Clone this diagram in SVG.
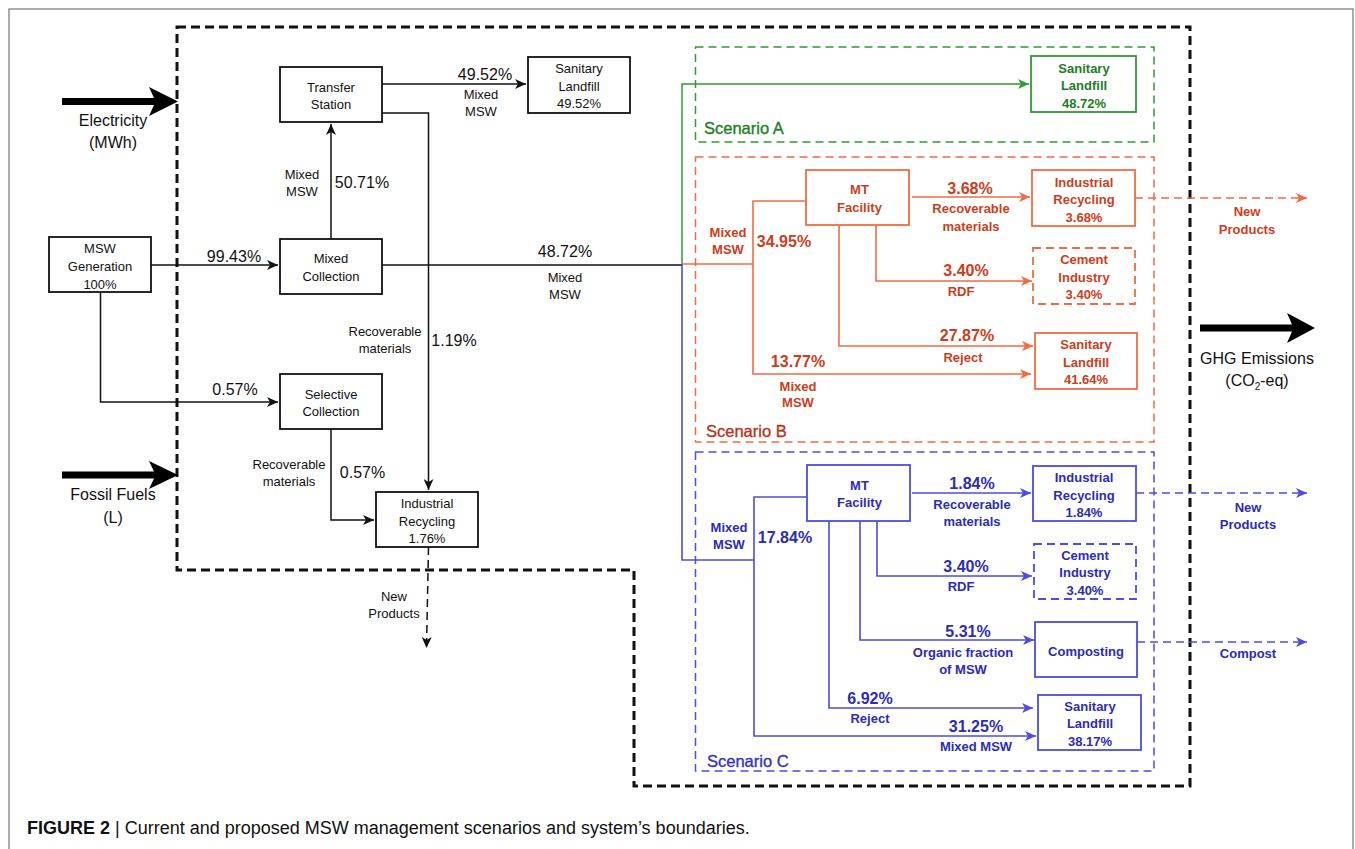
<svg xmlns="http://www.w3.org/2000/svg" width="1355" height="849" viewBox="0 0 1355 849">
<style>
text{font-family:"Liberation Sans",Arial,sans-serif;text-anchor:middle}
.bx{fill:#fff;stroke:#111;stroke-width:1.8}
.s13{font-size:13px}
.s16{font-size:16px}
.gB{fill:#fff;stroke:#2e9b35;stroke-width:1.8}
.oB{fill:#fff;stroke:#f26b43;stroke-width:1.8}
.bB{fill:#fff;stroke:#4c4ce6;stroke-width:1.8}
.gt{fill:#1d7d25;font-weight:bold}
.ot{fill:#cc3d20;font-weight:bold}
.bt{fill:#2c2cb4;font-weight:bold}
.ln{fill:none;stroke:#111;stroke-width:1.5}
.lg{fill:none;stroke:#2e9b35;stroke-width:1.5}
.lo{fill:none;stroke:#f26b43;stroke-width:1.6}
.lb{fill:none;stroke:#4c4ce6;stroke-width:1.6}
.dash{stroke-dasharray:8 5}
.sc{fill:none;stroke-width:1.5;stroke-dasharray:8 5}
.lbl{font-size:16.5px;text-anchor:start;font-weight:normal;stroke-width:0.35}
</style>
<defs>
<marker id="ak" markerUnits="userSpaceOnUse" markerWidth="12" markerHeight="10" refX="11" refY="5" orient="auto"><path d="M0,0 L11,5 L0,10 L3,5 Z" fill="#111"/></marker>
<marker id="ag" markerUnits="userSpaceOnUse" markerWidth="12" markerHeight="10" refX="11" refY="5" orient="auto"><path d="M0,0 L11,5 L0,10 L3,5 Z" fill="#2e9b35"/></marker>
<marker id="ao" markerUnits="userSpaceOnUse" markerWidth="12" markerHeight="10" refX="11" refY="5" orient="auto"><path d="M0,0 L11,5 L0,10 L3,5 Z" fill="#f26b43"/></marker>
<marker id="ab" markerUnits="userSpaceOnUse" markerWidth="12" markerHeight="10" refX="11" refY="5" orient="auto"><path d="M0,0 L11,5 L0,10 L3,5 Z" fill="#4c4ce6"/></marker>
</defs>
<rect x="0" y="0" width="1355" height="849" fill="#fff"/>
<rect x="9" y="9" width="1344" height="860" fill="none" stroke="#8a8a8a" stroke-width="1.4"/>

<!-- system boundary -->
<path d="M177,27 H1190 V786 H634 V570 H177 Z" fill="none" stroke="#111" stroke-width="3" stroke-dasharray="9 5"/>

<!-- scenario frames -->
<rect x="695.5" y="47" width="458.5" height="95" class="sc" stroke="#2e9b35"/>
<rect x="695.5" y="157" width="458.5" height="285" class="sc" stroke="#f26b43"/>
<rect x="695.5" y="452" width="458.5" height="319" class="sc" stroke="#4c4ce6"/>
<text x="704" y="134" class="lbl" fill="#1d7d25" stroke="#1d7d25">Scenario A</text>
<text x="706" y="437" class="lbl" fill="#b8341c" stroke="#b8341c">Scenario B</text>
<text x="707" y="767" class="lbl" fill="#3434c0" stroke="#3434c0">Scenario C</text>

<!-- big arrows -->
<g id="electricity">
<path d="M62,98 H154 L149,87 L178,101.5 L149,116 L154,105 H62 Z" fill="#000"/>
<text x="113" y="126" class="s16" fill="#111">Electricity</text>
<text x="113" y="148" class="s16" fill="#111">(MWh)</text>
</g>
<g id="fossil">
<path d="M62,471.5 H154 L149,461 L178,475 L149,489 L154,478.5 H62 Z" fill="#000"/>
<text x="113" y="500" class="s16" fill="#111">Fossil Fuels</text>
<text x="113" y="523" class="s16" fill="#111">(L)</text>
</g>
<g id="ghg">
<path d="M1200,324.5 H1292 L1287,313 L1315,328 L1287,343 L1292,331.5 H1200 Z" fill="#000"/>
<text x="1257" y="364" class="s16" fill="#111">GHG Emissions</text>
<text x="1257" y="386" class="s16" fill="#111">(CO<tspan font-size="10" dy="4">2</tspan><tspan dy="-4">-eq)</tspan></text>
</g>

<!-- connectors -->
<g id="connectors">
<path class="ln" d="M151,265 H278" marker-end="url(#ak)"/>
<path class="ln" d="M331,239 V124" marker-end="url(#ak)"/>
<path class="ln" d="M382,84 H526" marker-end="url(#ak)"/>
<path class="ln" d="M382,113 H428.5 V490" marker-end="url(#ak)"/>
<path class="ln" d="M382,265 H682"/>
<path class="ln" d="M100.5,292 V402 H278" marker-end="url(#ak)"/>
<path class="ln" d="M331,429 V520 H374" marker-end="url(#ak)"/>
<path class="ln dash" d="M428.5,547 L426.5,648" marker-end="url(#ak)"/>

<path class="lg" d="M682,264 V84 H1029" marker-end="url(#ag)"/>

<path class="lo" d="M682,264 H753"/>
<path class="lo" d="M806,201 H753 V374 H1031" marker-end="url(#ao)"/>
<path class="lo" d="M912,197 H1030" marker-end="url(#ao)"/>
<path class="lo" d="M876,225 V281 H1032" marker-end="url(#ao)"/>
<path class="lo" d="M839,225 V346 H1033" marker-end="url(#ao)"/>
<path class="lo dash" d="M1135,198 H1307" marker-end="url(#ao)"/>

<path class="lb" d="M682,264 V560 H754"/>
<path class="lb" d="M807,497 H754 V736 H1036" marker-end="url(#ab)"/>
<path class="lb" d="M912,493 H1031" marker-end="url(#ab)"/>
<path class="lb" d="M877,521 V576 H1032" marker-end="url(#ab)"/>
<path class="lb" d="M860,521 V640 H1034" marker-end="url(#ab)"/>
<path class="lb" d="M829,521 V708 H1033" marker-end="url(#ab)"/>
<path class="lb dash" d="M1136,493 H1307" marker-end="url(#ab)"/>
<path class="lb dash" d="M1137,642 H1307" marker-end="url(#ab)"/>
</g>

<!-- connector labels (black) -->
<g id="labels-black" fill="#111">
<text x="485" y="80" class="s16">49.52%</text>
<text x="481" y="99" class="s13">Mixed</text>
<text x="481" y="116" class="s13">MSW</text>
<text x="302" y="179" class="s13">Mixed</text>
<text x="302" y="196" class="s13">MSW</text>
<text x="362" y="188" class="s16">50.71%</text>
<text x="234" y="262" class="s16">99.43%</text>
<text x="565" y="257" class="s16">48.72%</text>
<text x="565" y="282" class="s13">Mixed</text>
<text x="565" y="299" class="s13">MSW</text>
<text x="385" y="336" class="s13">Recoverable</text>
<text x="385" y="353" class="s13">materials</text>
<text x="454" y="346" class="s16">1.19%</text>
<text x="235" y="395" class="s16">0.57%</text>
<text x="289" y="469" class="s13">Recoverable</text>
<text x="289" y="486" class="s13">materials</text>
<text x="362.5" y="478" class="s16">0.57%</text>
<text x="394" y="601" class="s13">New</text>
<text x="394" y="618" class="s13">Products</text>
</g>

<!-- black nodes -->
<g id="msw-generation"><rect class="bx" x="49" y="237" width="102" height="55"/>
<text x="100" y="253" class="s13" fill="#111">MSW</text><text x="100" y="271" class="s13" fill="#111">Generation</text><text x="100" y="289" class="s13" fill="#111">100%</text></g>
<g id="transfer-station"><rect class="bx" x="280" y="67" width="102" height="55"/>
<text x="331" y="92" class="s13" fill="#111">Transfer</text><text x="331" y="109" class="s13" fill="#111">Station</text></g>
<g id="sanitary-landfill"><rect class="bx" x="528" y="57" width="102" height="56"/>
<text x="579" y="73" class="s13" fill="#111">Sanitary</text><text x="579" y="91" class="s13" fill="#111">Landfill</text><text x="579" y="108" class="s13" fill="#111">49.52%</text></g>
<g id="mixed-collection"><rect class="bx" x="280" y="239" width="102" height="55"/>
<text x="331" y="263" class="s13" fill="#111">Mixed</text><text x="331" y="281" class="s13" fill="#111">Collection</text></g>
<g id="selective-collection"><rect class="bx" x="280" y="374" width="102" height="55"/>
<text x="331" y="399" class="s13" fill="#111">Selective</text><text x="331" y="416" class="s13" fill="#111">Collection</text></g>
<g id="industrial-recycling"><rect class="bx" x="376" y="492" width="102" height="55"/>
<text x="427" y="508" class="s13" fill="#111">Industrial</text><text x="427" y="526" class="s13" fill="#111">Recycling</text><text x="427" y="543" class="s13" fill="#111">1.76%</text></g>

<!-- Scenario A -->
<g id="a-landfill"><rect class="gB" x="1031" y="56" width="105" height="56"/>
<text x="1084" y="73" class="s13 gt">Sanitary</text><text x="1084" y="90" class="s13 gt">Landfill</text><text x="1084" y="108" class="s13 gt">48.72%</text></g>

<!-- Scenario B -->
<g id="b-labels">
<text x="728" y="237" class="s13 ot">Mixed</text><text x="728" y="254" class="s13 ot">MSW</text>
<text x="784" y="247" class="s16 ot">34.95%</text>
<text x="970" y="194" class="s16 ot">3.68%</text>
<text x="971" y="213" class="s13 ot">Recoverable</text><text x="971" y="231" class="s13 ot">materials</text>
<text x="966" y="276" class="s16 ot">3.40%</text>
<text x="961" y="296" class="s13 ot">RDF</text>
<text x="967" y="341" class="s16 ot">27.87%</text>
<text x="963" y="362" class="s13 ot">Reject</text>
<text x="798" y="367" class="s16 ot">13.77%</text>
<text x="798" y="391" class="s13 ot">Mixed</text><text x="798" y="407" class="s13 ot">MSW</text>
<text x="1247" y="216" class="s13 ot">New</text><text x="1247" y="234" class="s13 ot">Products</text>
</g>
<g id="b-mt"><rect class="oB" x="806" y="170" width="103" height="55"/>
<text x="859.5" y="194" class="s13 ot">MT</text><text x="859.5" y="212" class="s13 ot">Facility</text></g>
<g id="b-recycling"><rect class="oB" x="1032" y="170" width="103" height="56"/>
<text x="1084" y="187" class="s13 ot">Industrial</text><text x="1084" y="204" class="s13 ot">Recycling</text><text x="1084" y="222" class="s13 ot">3.68%</text></g>
<g id="b-cement"><rect class="oB dash" x="1033" y="248" width="102" height="56"/>
<text x="1084" y="264" class="s13 ot">Cement</text><text x="1084" y="282" class="s13 ot">Industry</text><text x="1084" y="299" class="s13 ot">3.40%</text></g>
<g id="b-landfill"><rect class="oB" x="1035" y="333" width="102" height="56"/>
<text x="1086" y="349" class="s13 ot">Sanitary</text><text x="1086" y="367" class="s13 ot">Landfill</text><text x="1086" y="384" class="s13 ot">41.64%</text></g>

<!-- Scenario C -->
<g id="c-labels">
<text x="729" y="532" class="s13 bt">Mixed</text><text x="729" y="549" class="s13 bt">MSW</text>
<text x="785" y="543" class="s16 bt">17.84%</text>
<text x="972" y="489" class="s16 bt">1.84%</text>
<text x="972" y="509" class="s13 bt">Recoverable</text><text x="972" y="526" class="s13 bt">materials</text>
<text x="966" y="572" class="s16 bt">3.40%</text>
<text x="961" y="591" class="s13 bt">RDF</text>
<text x="968" y="637" class="s16 bt">5.31%</text>
<text x="963" y="657" class="s13 bt">Organic fraction</text><text x="963" y="674" class="s13 bt">of MSW</text>
<text x="870" y="704" class="s16 bt">6.92%</text>
<text x="870" y="723" class="s13 bt">Reject</text>
<text x="976" y="732" class="s16 bt">31.25%</text>
<text x="976" y="751" class="s13 bt">Mixed MSW</text>
<text x="1248" y="512" class="s13 bt">New</text><text x="1248" y="529" class="s13 bt">Products</text>
<text x="1248" y="658" class="s13 bt">Compost</text>
</g>
<g id="c-mt"><rect class="bB" x="807" y="465" width="103" height="56"/>
<text x="859.5" y="490" class="s13 bt">MT</text><text x="859.5" y="507" class="s13 bt">Facility</text></g>
<g id="c-recycling"><rect class="bB" x="1033" y="466" width="103" height="55"/>
<text x="1084" y="482" class="s13 bt">Industrial</text><text x="1084" y="500" class="s13 bt">Recycling</text><text x="1084" y="517" class="s13 bt">1.84%</text></g>
<g id="c-cement"><rect class="bB dash" x="1034" y="544" width="102" height="55"/>
<text x="1085" y="560" class="s13 bt">Cement</text><text x="1085" y="577" class="s13 bt">Industry</text><text x="1085" y="595" class="s13 bt">3.40%</text></g>
<g id="c-composting"><rect class="bB" x="1035" y="622" width="102" height="55"/>
<text x="1086" y="656" class="s13 bt">Composting</text></g>
<g id="c-landfill"><rect class="bB" x="1038" y="695" width="103" height="55"/>
<text x="1090" y="711" class="s13 bt">Sanitary</text><text x="1090" y="728" class="s13 bt">Landfill</text><text x="1090" y="746" class="s13 bt">38.17%</text></g>

<!-- caption -->
<text x="27" y="834" style="text-anchor:start;font-size:18px" fill="#111"><tspan font-weight="bold">FIGURE 2</tspan> | Current and proposed MSW management scenarios and system’s boundaries.</text>
</svg>
